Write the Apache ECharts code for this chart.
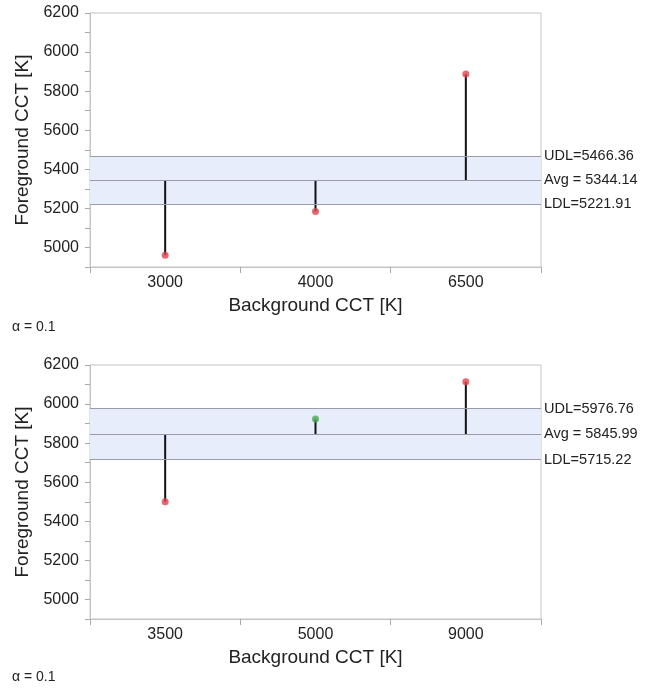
<!DOCTYPE html>
<html>
<head>
<meta charset="utf-8">
<script src="https://cdn.jsdelivr.net/npm/echarts@6/dist/echarts.min.js"></script>
<style>
  html, body { margin: 0; padding: 0; background: #fff; }
  #chart { width: 648px; height: 689px; }
</style>
</head>
<body>
<div id="chart"></div>
<script>
// top panel
var catsTop = ['3000', '4000', '6500'];
var meansTop = [4960.5, 5184.4, 5887.5];
var limitsTop = { udl: 5466.36, avg: 5344.14, ldl: 5221.91 };
// bottom panel
var catsBottom = ['3500', '5000', '9000'];
var meansBottom = [5500, 5924, 6114];
var limitsBottom = { udl: 5976.76, avg: 5845.99, ldl: 5715.22 };

var yMin = 4900, yMax = 6200;
var yLabels = [5000, 5200, 5400, 5600, 5800, 6000, 6200];

var font = '"Liberation Sans", Arial, sans-serif';
var red = '#e0444e', green = '#45ad4f';

function yAxisFor(i) {
  return {
    gridIndex: i, type: 'value', min: yMin, max: yMax, interval: 100,
    name: 'Foreground CCT [K]', nameLocation: 'middle', nameGap: 56,
    nameTextStyle: { fontFamily: font, fontSize: 19, color: '#222' },
    axisLine: { show: true, lineStyle: { color: '#c4c4c4' } },
    axisTick: { show: true, length: 5, lineStyle: { color: '#aaa' } },
    axisLabel: {
      fontFamily: font, fontSize: 16, color: '#222', margin: 11,
      formatter: function (v) { return yLabels.indexOf(v) >= 0 ? String(v) : ''; }
    },
    splitLine: { show: false }
  };
}

function xAxisFor(i, cats) {
  return {
    gridIndex: i, type: 'category', data: cats, boundaryGap: true,
    name: 'Background CCT [K]', nameLocation: 'middle', nameGap: 29,
    nameTextStyle: { fontFamily: font, fontSize: 19, color: '#222' },
    axisLine: { show: true, lineStyle: { color: '#c4c4c4' } },
    axisTick: { show: true, length: 6, alignWithLabel: false, lineStyle: { color: '#aaa' } },
    axisLabel: { fontFamily: font, fontSize: 16, color: '#222', margin: 8 },
    splitLine: { show: false }
  };
}

function seriesFor(i, cats, means, lim) {
  var stems = {
    type: 'custom', xAxisIndex: i, yAxisIndex: i, z: 3,
    data: cats.map(function (c, k) { return [k, means[k]]; }),
    renderItem: function (params, api) {
      var p0 = api.coord([api.value(0), lim.avg]);
      var p1 = api.coord([api.value(0), api.value(1)]);
      return {
        type: 'line',
        shape: { x1: p0[0], y1: p0[1], x2: p1[0], y2: p1[1] },
        style: { stroke: '#111', lineWidth: 2 }
      };
    },
    markArea: {
      silent: true,
      itemStyle: { color: '#e8edfb' },
      data: [[{ yAxis: lim.ldl }, { yAxis: lim.udl }]]
    },
    markLine: {
      silent: true, symbol: 'none',
      lineStyle: { color: '#9a9cab', width: 1, type: 'solid' },
      label: { position: 'end', distance: 3, fontFamily: font, fontSize: 14.5, color: '#222' },
      data: [
        { yAxis: lim.udl, label: { formatter: 'UDL=' + lim.udl.toFixed(2) } },
        { yAxis: lim.avg, label: { formatter: 'Avg = ' + lim.avg.toFixed(2) } },
        { yAxis: lim.ldl, label: { formatter: 'LDL=' + lim.ldl.toFixed(2) } }
      ]
    }
  };
  var dots = {
    type: 'scatter', xAxisIndex: i, yAxisIndex: i, z: 4, symbolSize: 7,
    data: cats.map(function (c, k) {
      var out = means[k] > lim.udl || means[k] < lim.ldl;
      return { value: [k, means[k]], itemStyle: { color: out ? red : green } };
    })
  };
  return [stems, dots];
}

var chart = echarts.init(document.getElementById('chart'), null, { renderer: 'canvas' });
chart.setOption({
  backgroundColor: '#fff',
  animation: false,
  grid: [
    { left: 90, top: 13, width: 451, height: 254, show: true, borderColor: '#c4c4c4', borderWidth: 1, containLabel: false },
    { left: 90, top: 365, width: 451, height: 254, show: true, borderColor: '#c4c4c4', borderWidth: 1, containLabel: false }
  ],
  xAxis: [xAxisFor(0, catsTop), xAxisFor(1, catsBottom)],
  yAxis: [yAxisFor(0), yAxisFor(1)],
  graphic: [
    { type: 'text', left: 12, top: 320, style: { text: 'α = 0.1', fontFamily: font, fontSize: 14, fill: '#222' } },
    { type: 'text', left: 12, top: 670, style: { text: 'α = 0.1', fontFamily: font, fontSize: 14, fill: '#222' } }
  ],
  series: seriesFor(0, catsTop, meansTop, limitsTop).concat(seriesFor(1, catsBottom, meansBottom, limitsBottom))
});
</script>
</body>
</html>
